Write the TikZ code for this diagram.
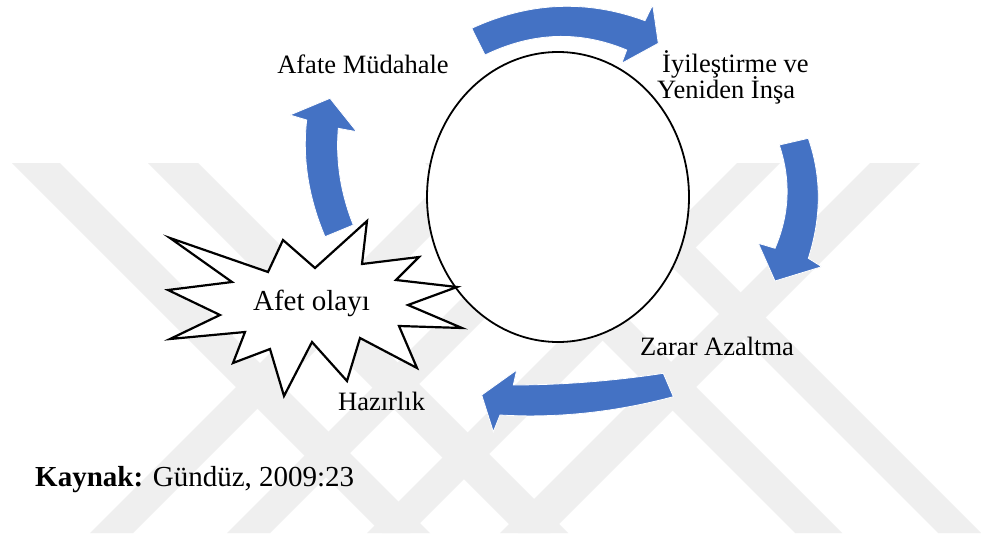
\documentclass[tikz,border=0pt]{standalone}
\usepackage{fontspec}
\setmainfont{Liberation Serif}
\usetikzlibrary{shapes.geometric}
\definecolor{cycleblue}{HTML}{4472C4}
\definecolor{markgray}{HTML}{EFEFEF}
\begin{document}
\begin{tikzpicture}[x=1pt,y=-1pt,
  cyclearrow/.style={fill=cycleblue, draw=white, line width=0.8pt, line join=miter},
  phase/.style={font=\fontsize{26.5}{30}\selectfont, inner sep=0pt},
  band/.style={fill=markgray}]
\useasboundingbox (0,0) rectangle (981,538);
\fill[white] (0,0) rectangle (981,538);

% background bands
\begin{scope}
  \clip (0,163) rectangle (981,533);
  \fill[band] (12,163) -- (60,163) -- (430,533) -- (382,533) -- cycle;
  \fill[band] (148,163) -- (198,163) -- (568,533) -- (518,533) -- cycle;
  \fill[band] (425,163) -- (472,163) -- (842,533) -- (795,533) -- cycle;
  \fill[band] (568,163) -- (611,163) -- (981,533) -- (938,533) -- cycle;
  \fill[band] (737,163) -- (780,163) -- (410,533) -- (367,533) -- cycle;
  \fill[band] (870,163) -- (920,163) -- (550,533) -- (500,533) -- cycle;
  \fill[band] (460,163) -- (503,163) -- (133,533) -- (90,533) -- cycle;
  \fill[band] (597,163) -- (640,163) -- (270,533) -- (227,533) -- cycle;
\end{scope}

% central cycle
\node[draw, ellipse, fill=white, line width=1.8pt, minimum width=262pt,
      minimum height=290pt, inner sep=0pt] (cyc) at (558,197) {};

% disaster burst
\draw[fill=white, line width=2.2pt, line join=miter]
  (170,238) -- (268,272) -- (283,240) -- (315,268) -- (367,221) -- (362,264)
  -- (419,257) -- (396,280) -- (457,287) -- (408,305) -- (462,328) -- (399,326)
  -- (417,368) -- (360,338) -- (347,381) -- (312,342) -- (284,396) -- (270,349)
  -- (233,363) -- (245,332) -- (170,339) -- (220,315) -- (168,290) -- (232,282)
  -- cycle;
\node[font=\fontsize{29}{32}\selectfont, inner sep=0pt, anchor=base] (event) at (311.5,310) {Afet olayı};

% curved arrows
\fill[cyclearrow] (471.7,28.3) .. controls (529.0,1.8) and (586.8,-0.8) .. (645,20.7)
  -- (652.7,5) -- (658.3,43.3) -- (621.7,63.3) -- (626.7,50)
  .. controls (579.7,30.3) and (532.4,32) .. (485,55) -- cycle;
\fill[cyclearrow] (808.3,138.3) .. controls (821.6,176.6) and (821.6,216.6) .. (808.3,258.3)
  -- (821.7,266.7) -- (775,281) -- (758.3,243.3) -- (775,248.3)
  .. controls (789.6,214.3) and (791.0,179.9) .. (779.3,145) -- cycle;
\fill[cyclearrow] (663.3,373.3) .. controls (612.9,381) and (562.9,384.9) .. (513.3,385)
  -- (516.7,370) -- (481.7,395) -- (493.3,431.7) -- (500,415)
  .. controls (556.9,418.4) and (614.7,412.3) .. (673.3,396.7) -- cycle;
\fill[cyclearrow] (353.3,225) -- (325,236.7)
  .. controls (308.4,197.3) and (302.3,158.4) .. (306.7,120)
  -- (290,115) -- (330,98.3) -- (356.7,131.7) -- (338.3,128.3)
  .. controls (335.6,161) and (340.6,193.2) .. (353.3,225) -- cycle;

% phase labels
\node[phase, anchor=base] (resp) at (363,73) {Afate Müdahale};
\node[phase, anchor=base west] (rec1) at (662,72) {İyileştirme ve};
\node[phase, anchor=base west] (rec2) at (657,98) {Yeniden İnşa};
\node[phase, anchor=base west] (mit) at (640,355) {Zarar Azaltma};
\node[phase, anchor=base west] (prep) at (338,410) {Hazırlık};

% source line
\node[font=\fontsize{29}{32}\selectfont, inner sep=0pt, anchor=base west] (src) at (35,486)
  {\textbf{Kaynak:} Gündüz, 2009:23};
\end{tikzpicture}
\end{document}
